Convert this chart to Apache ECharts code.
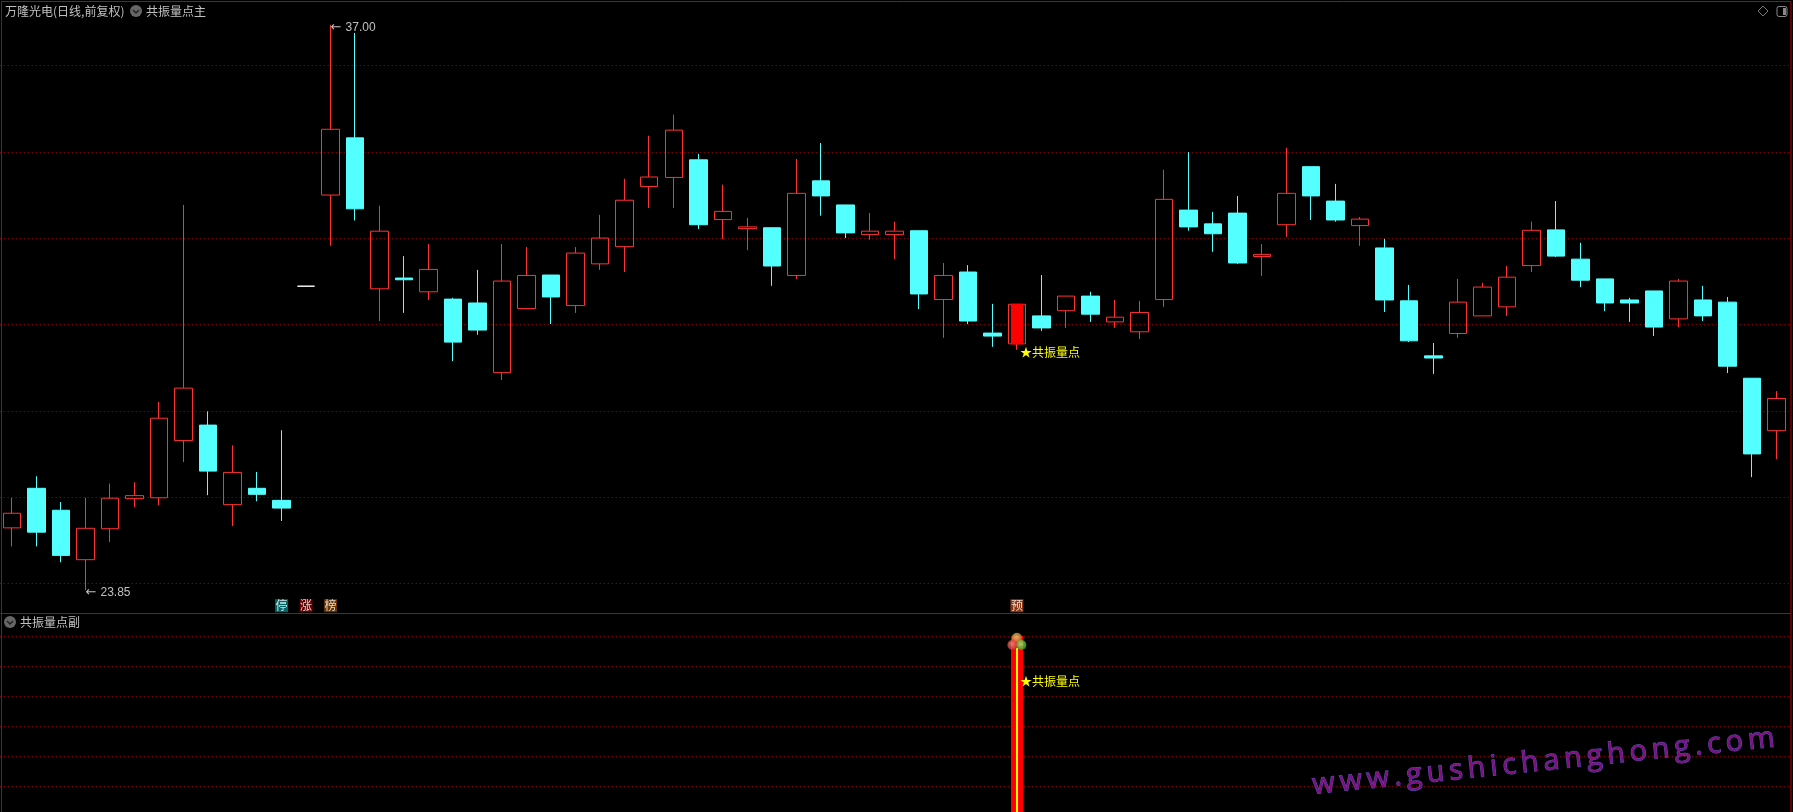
<!DOCTYPE html>
<html>
<head>
<meta charset="utf-8">
<title>万隆光电</title>
<style>
    html, body { margin: 0; padding: 0; background: #000; overflow: hidden; }
    #chart { width: 1793px; height: 812px; }
</style>
<script src="https://cdn.jsdelivr.net/npm/echarts@6/dist/echarts.min.js"></script>
</head>
<body>
<div id="chart"></div>
<script>
const opens = [25.30, 26.22, 25.71, 24.56, 25.28, 25.98, 26.00, 27.33, 27.69, 25.84, 26.22, 25.94, 30.92, 33.04, 34.37, 30.86, 31.11, 30.79, 30.62, 30.53, 28.91, 30.40, 31.18, 30.47, 31.44, 31.84, 33.24, 33.45, 33.86, 32.47, 32.26, 32.28, 31.17, 33.37, 32.81, 32.12, 32.12, 32.21, 30.61, 31.25, 29.83, 29.58, 30.23, 30.35, 30.69, 30.09, 29.86, 30.61, 32.69, 32.37, 32.62, 31.61, 32.35, 33.70, 32.90, 32.33, 31.81, 30.58, 29.30, 29.82, 30.23, 30.44, 31.40, 32.23, 31.55, 31.09, 30.60, 30.81, 30.16, 30.60, 30.55, 28.78, 27.56];
const closes = [25.64, 25.20, 24.66, 25.29, 25.99, 26.05, 27.85, 28.55, 26.62, 26.59, 26.08, 25.76, 30.92, 34.57, 32.72, 32.20, 31.07, 31.31, 29.62, 29.90, 31.04, 31.17, 30.67, 31.69, 32.04, 32.92, 33.46, 34.55, 32.35, 32.66, 32.30, 31.39, 33.08, 33.02, 32.16, 32.20, 32.20, 30.74, 31.17, 30.11, 29.76, 30.50, 29.95, 30.69, 30.27, 30.20, 30.31, 32.94, 32.30, 32.14, 31.46, 31.66, 33.08, 33.02, 32.46, 32.48, 30.60, 29.65, 29.25, 30.55, 30.90, 31.13, 32.22, 31.62, 31.06, 30.53, 30.53, 29.97, 31.04, 30.23, 29.06, 27.02, 28.31];
const lows = [24.87, 24.87, 24.50, 23.85, 24.97, 25.78, 25.83, 26.83, 26.06, 25.34, 25.92, 25.46, 30.92, 31.86, 32.45, 30.11, 30.30, 30.60, 29.18, 29.79, 28.74, 30.39, 30.04, 30.30, 31.30, 31.25, 32.74, 32.74, 32.25, 32.02, 31.76, 30.93, 31.09, 32.56, 32.04, 32.00, 31.55, 30.39, 29.72, 30.04, 29.51, 29.44, 29.88, 29.95, 30.09, 29.95, 29.69, 30.44, 32.21, 31.72, 31.44, 31.16, 32.07, 32.46, 32.42, 31.86, 30.32, 29.62, 28.88, 29.72, 30.23, 30.23, 31.25, 31.60, 30.90, 30.34, 30.09, 29.76, 29.97, 30.11, 28.90, 26.48, 26.90];
const highs = [26.00, 26.50, 25.90, 26.00, 26.33, 26.36, 28.23, 32.81, 28.01, 27.22, 26.60, 27.57, 30.92, 37.00, 36.81, 32.79, 31.62, 31.90, 30.65, 31.30, 31.90, 31.83, 31.18, 31.83, 32.58, 33.42, 34.42, 34.91, 34.00, 33.28, 32.51, 32.28, 33.88, 34.25, 32.81, 32.62, 32.42, 32.21, 31.46, 31.41, 30.51, 30.50, 31.18, 30.69, 30.79, 30.60, 30.58, 33.63, 34.04, 32.65, 33.02, 31.90, 34.14, 33.70, 33.30, 32.53, 32.02, 30.95, 29.60, 31.09, 31.00, 31.39, 32.42, 32.90, 31.93, 31.09, 30.65, 30.81, 31.09, 30.93, 30.67, 28.78, 28.48];

const priceLevels = [36.06, 34.04, 32.04, 30.03, 28.01, 26.01, 24.01];
const whiteDay = 12;
const highDay = 13;
const highPrice = 37.00;
const lowDay = 3;
const lowPrice = 23.85;

const signalDay = 41;
const signalTop = 60;
const signalInnerTop = 56;

const tagDays = [11, 12, 13, 41];
const tagTexts = ['停', '涨', '榜', '预'];
const tagPrice = 23.49;

const red = '#FF3232';
const cyan = '#54FFFF';
const gridRed = '#B00000';
const frameRed = '#C00000';
const grey = '#C0C0C0';
const cjk = '"Noto Sans CJK SC", sans-serif';

const tagColors = ['#008080', '#800000', '#804000', '#B04010'];

const days = opens.map((_, i) => String(i));

function ball(inner, outer) {
    return {
        type: 'radial', x: 0.45, y: 0.4, r: 0.6,
        colorStops: [{offset: 0, color: inner}, {offset: 1, color: outer}]
    };
}

// 下方副图的柱子也用 candlestick 画，这样两根粗细不同的柱子可以居中重叠
function onlySignal(item) {
    return days.map((_, i) => i === signalDay ? item : '-');
}

function chevron(x, y) {
    return [
        {type: 'circle', shape: {cx: x, cy: y, r: 6}, style: {fill: '#666'}},
        {type: 'polyline', shape: {points: [[x - 3, y - 1], [x, y + 2], [x + 3, y - 1]]}, style: {stroke: '#222', fill: null, lineWidth: 1.5}}
    ];
}

const candles = days.map((_, i) => {
    const value = [opens[i], closes[i], lows[i], highs[i]];
    if (i === whiteDay) {
        return {value: value, itemStyle: {color: '#FFFFFF', borderColor: '#FFFFFF'}};
    }
    return value;
});

const extremeLabel = {
    show: true, position: 'right', color: grey,
    rich: {
        arrow: {fontFamily: '"DejaVu Sans", sans-serif', fontSize: 13, color: grey, width: 15},
        num: {fontFamily: '"Liberation Sans", sans-serif', fontSize: 12, color: grey}
    }
};

const chart = echarts.init(document.querySelector('#chart'));

const option = {
    animation: false,
    backgroundColor: '#000',
    grid: [
        {left: -0.3, top: 2, width: 1789.3, height: 611, outerBoundsMode: 'none'},
        {left: -0.3, top: 613, width: 1789.3, height: 203.3, outerBoundsMode: 'none'}
    ],
    xAxis: [
        {type: 'category', data: days, gridIndex: 0, show: false},
        {type: 'category', data: days, gridIndex: 1, show: false}
    ],
    yAxis: [
        {type: 'value', gridIndex: 0, min: 23.32, max: 37.53, show: false},
        {
            type: 'value', gridIndex: 1, min: 0, max: 67.77, interval: 10,
            axisLine: {show: false}, axisTick: {show: false}, axisLabel: {show: false},
            splitLine: {show: true, lineStyle: {color: gridRed, type: [1, 3], width: 1}}
        }
    ],
    series: [
        {
            type: 'candlestick',
            name: '共振量点主',
            xAxisIndex: 0, yAxisIndex: 0,
            z: 2,
            barWidth: 18,
            data: candles,
            itemStyle: {color: 'transparent', color0: cyan, borderColor: red, borderColor0: cyan, borderWidth: 1},
            markLine: {
                silent: true, symbol: 'none', z: 1, animation: false,
                label: {show: false},
                lineStyle: {color: gridRed, type: [1, 3], width: 1},
                data: priceLevels.map(v => ({yAxis: v}))
            },
            markPoint: {
                silent: true, symbol: 'circle', symbolSize: 0, z: 6,
                data: [
                    {
                        coord: [highDay, highPrice],
                        label: {...extremeLabel, offset: [-5, 3], formatter: '{arrow|←}{num|' + highPrice.toFixed(2) + '}'}
                    },
                    {
                        coord: [lowDay, lowPrice],
                        label: {...extremeLabel, offset: [-5, 2], formatter: '{arrow|←}{num|' + lowPrice.toFixed(2) + '}'}
                    },
                    {
                        coord: [signalDay, 29.39],
                        label: {show: true, position: 'right', formatter: '★共振量点', color: '#FFFF00', fontFamily: cjk, fontSize: 12, offset: [-2, 0]}
                    }
                ]
            }
        },
        {
            type: 'candlestick',
            xAxisIndex: 0, yAxisIndex: 0,
            z: 3,
            barWidth: 12,
            data: onlySignal([opens[signalDay], closes[signalDay], opens[signalDay], closes[signalDay]]),
            itemStyle: {color: '#FF0000', borderColor: '#FF0000', borderWidth: 1}
        },
        {
            type: 'scatter',
            xAxisIndex: 0, yAxisIndex: 0,
            z: 4,
            symbol: 'rect',
            symbolSize: 13,
            data: tagDays.map((d, i) => ({
                value: [d, tagPrice],
                name: tagTexts[i],
                itemStyle: {color: tagColors[i]}
            })),
            label: {show: true, position: 'inside', formatter: '{b}', color: '#FFFFFF', fontFamily: cjk, fontSize: 12}
        },
        {
            type: 'candlestick',
            name: '共振量点副',
            xAxisIndex: 1, yAxisIndex: 1,
            z: 2,
            barWidth: 12,
            data: onlySignal([0, signalTop, 0, signalTop]),
            itemStyle: {color: '#FF0000', borderColor: '#FF0000', borderWidth: 1},
            markPoint: {
                silent: true, symbol: 'circle', symbolSize: 0, z: 6,
                label: {show: true, position: 'right', formatter: '★共振量点', color: '#FFFF00', fontFamily: cjk, fontSize: 12, offset: [-2, 0]},
                data: [{coord: [signalDay, 45.1]}]
            }
        },
        {
            type: 'candlestick',
            xAxisIndex: 1, yAxisIndex: 1,
            z: 3,
            barWidth: 2,
            data: onlySignal([0, signalInnerTop, 0, signalInnerTop]),
            itemStyle: {color: '#FFFF00', borderColor: '#FFFF00', borderWidth: 1}
        },
        {
            type: 'scatter',
            xAxisIndex: 1, yAxisIndex: 1,
            z: 4,
            symbolSize: 10,
            data: [
                {value: [signalDay, 59.5], symbolOffset: [0, 0], itemStyle: {color: ball('#F0D080', '#A07820')}},
                {value: [signalDay, 57.1], symbolOffset: [-4.5, 0], itemStyle: {color: ball('#FF9080', '#C03030')}},
                {value: [signalDay, 57.1], symbolOffset: [4.5, 0], itemStyle: {color: ball('#A0FF80', '#30A020')}}
            ]
        }
    ],
    graphic: [
        // 边框
        {type: 'rect', z: 10, silent: true, shape: {x: 1.5, y: 1.5, width: 1789.5, height: 812}, style: {fill: null, stroke: frameRed, lineWidth: 1}},
        {type: 'line', z: 10, silent: true, shape: {x1: 1, y1: 613.5, x2: 1791, y2: 613.5}, style: {stroke: frameRed, lineWidth: 1}},
        // 标题
        {type: 'text', z: 11, x: 5, y: 5, style: {text: '万隆光电(日线,前复权)', fill: grey, font: '12px ' + cjk}},
        ...chevron(136, 11),
        {type: 'text', z: 11, x: 146, y: 5, style: {text: '共振量点主', fill: grey, font: '12px ' + cjk}},
        ...chevron(10, 622),
        {type: 'text', z: 11, x: 20, y: 616, style: {text: '共振量点副', fill: grey, font: '12px ' + cjk}},
        // 右上角图标
        {type: 'polygon', z: 11, shape: {points: [[1763, 6], [1768, 11], [1763, 16], [1758, 11]]}, style: {fill: null, stroke: '#777', lineWidth: 1}},
        {type: 'rect', z: 11, shape: {x: 1777, y: 6.5, width: 10, height: 10, r: 2}, style: {fill: null, stroke: '#888', lineWidth: 1}},
        {type: 'rect', z: 11, shape: {x: 1783, y: 8, width: 3, height: 7}, style: {fill: '#888'}},
        // 水印
        {
            type: 'text', z: 12, silent: true,
            x: 1543.5, y: 762, rotation: 0.1024,
            style: {
                text: 'w\u2009w\u2009w\u2009.\u2009g\u2009u\u2009s\u2009h\u2009i\u2009c\u2009h\u2009a\u2009n\u2009g\u2009h\u2009o\u2009n\u2009g\u2009.\u2009c\u2009o\u2009m',
                font: '29px "Open Sans", sans-serif',
                fill: '#80107F',
                stroke: '#5A50B8',
                lineWidth: 1,
                textAlign: 'center',
                textVerticalAlign: 'middle'
            }
        }
    ]
};

option && chart.setOption(option);
</script>
</body>
</html>
